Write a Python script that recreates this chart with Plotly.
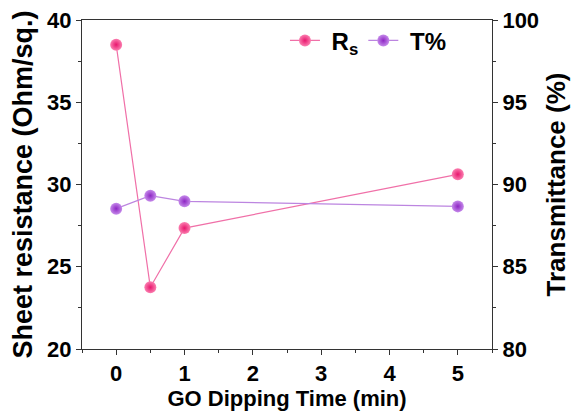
import plotly.graph_objects as go

time_min = [0, 0.5, 1, 5]
sheet_resistance = [38.5, 23.75, 27.35, 30.62]
transmittance = [88.53, 89.32, 88.98, 88.67]

x_ticks = [0, 1, 2, 3, 4, 5]
y1_ticks = [20, 25, 30, 35, 40]
y2_ticks = [80, 85, 90, 95, 100]

font_family = "Arial, Liberation Sans, sans-serif"


def bold(vals):
    return ["<b>%g</b>" % v for v in vals]


fig = go.Figure()
fig.add_trace(go.Scatter(
    x=time_min, y=sheet_resistance, name="\u00a0<b>R<sub>s</sub></b>",
    mode="lines+markers",
    line=dict(color="#F070A8", width=1.2),
    marker=dict(size=12, color="#FB7FB0", line=dict(width=0),
                gradient=dict(type="radial", color="#E8176E")),
    yaxis="y",
))
fig.add_trace(go.Scatter(
    x=time_min, y=transmittance, name="\u00a0<b>T%</b>",
    mode="lines+markers",
    line=dict(color="#BC85E0", width=1.2),
    marker=dict(size=12, color="#C58AEA", line=dict(width=0),
                gradient=dict(type="radial", color="#8E26C4")),
    yaxis="y2",
))

tickfont = dict(family=font_family, size=22, color="black")
axcolor = "#333"
fig.update_layout(
    width=575, height=419,
    margin=dict(l=82, r=83, t=20, b=70),
    paper_bgcolor="white", plot_bgcolor="white",
    font=dict(family=font_family, color="black"),
    showlegend=True,
    legend=dict(orientation="h", x=0.495, y=1.005, xanchor="left", yanchor="top",
                font=dict(family=font_family, size=24, color="black"),
                bgcolor="rgba(0,0,0,0)"),
    xaxis=dict(
        range=[-0.5, 5.5], tickmode="array", tickvals=x_ticks, ticktext=bold(x_ticks),
        ticks="outside", ticklen=5, tickwidth=1, tickcolor=axcolor,
        minor=dict(tickvals=[-0.5, 0.5, 1.5, 2.5, 3.5, 4.5, 5.5], ticks="outside", ticklen=3, tickcolor=axcolor),
        showline=True, linecolor=axcolor, linewidth=1, mirror=True,
        showgrid=False, zeroline=False, automargin=False,
        tickfont=tickfont,
        title=dict(text="<b>GO Dipping Time (min)</b>", font=dict(family=font_family, size=22, color="black"), standoff=2),
    ),
    yaxis=dict(
        range=[20, 40], tickmode="array", tickvals=y1_ticks, ticktext=bold(y1_ticks),
        ticks="outside", ticklen=5, tickwidth=1, tickcolor=axcolor,
        minor=dict(tickvals=[22.5, 27.5, 32.5, 37.5], ticks="outside", ticklen=3, tickcolor=axcolor),
        showline=True, linecolor=axcolor, linewidth=1,
        showgrid=False, zeroline=False, automargin=False,
        tickfont=tickfont,
        title=dict(text="<b>Sheet resistance (Ohm/sq.)</b>", font=dict(family=font_family, size=27, color="black"), standoff=6),
    ),
    yaxis2=dict(
        range=[80, 100], tickmode="array", tickvals=y2_ticks, ticktext=bold(y2_ticks),
        overlaying="y", side="right",
        ticks="outside", ticklen=5, tickwidth=1, tickcolor=axcolor,
        minor=dict(tickvals=[82.5, 87.5, 92.5, 97.5], ticks="outside", ticklen=3, tickcolor=axcolor),
        showline=True, linecolor=axcolor, linewidth=1,
        showgrid=False, zeroline=False, automargin=False,
        tickfont=tickfont,
        title=dict(text="<b>Transmittance (%)</b>", font=dict(family=font_family, size=26, color="black"), standoff=8),
    ),
)

fig.write_html("out.html", config={"displayModeBar": False},
               post_script="document.body.style.margin='0';document.body.style.overflow='hidden';")
